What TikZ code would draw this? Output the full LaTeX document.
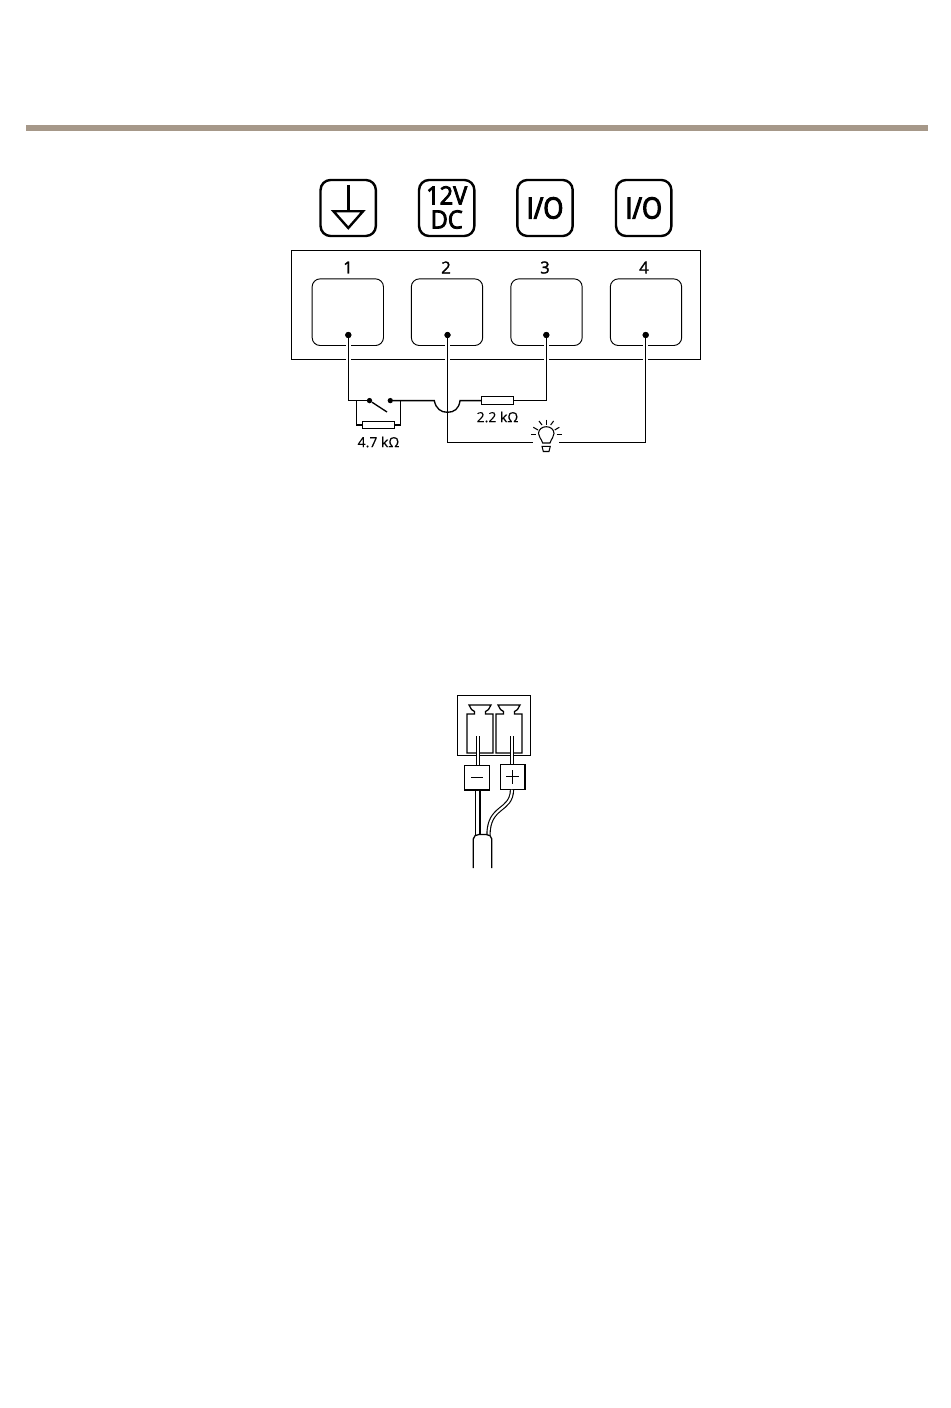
\documentclass[tikz,border=0pt]{standalone}
\usepackage{fontspec}
\setmainfont{Open Sans}
\usetikzlibrary{positioning}

\begin{document}
\begin{tikzpicture}[x=0.75pt,y=-0.75pt]
	\tikzstyle{Icon} = [rectangle, rounded corners=7.5pt, minimum width=41.5pt, minimum height=42pt, inner sep=0pt, draw=black, line width=1.8pt]
	\tikzstyle{IconText} = [align=center, inner sep=0pt]
	\tikzstyle{Port} = [rectangle, rounded corners=6pt, minimum width=53.5pt, minimum height=50pt, inner sep=0pt, draw=black, line width=0.7pt]
	\tikzstyle{Pin} = [circle, fill=black, minimum size=4.6pt, inner sep=0pt]
	\tikzstyle{Contact} = [circle, fill=black, minimum size=4pt, inner sep=0pt]
	\tikzstyle{Resistor} = [rectangle, minimum width=24pt, minimum height=5.6pt, inner sep=0pt, draw=black, line width=0.85pt]
	\tikzstyle{Value} = [inner sep=0pt, font=\fontsize{10.5}{10.5}\selectfont\addfontfeature{FakeBold=0.25}]
	\tikzstyle{Digit} = [inner sep=0pt, font=\fontsize{12.5}{12.5}\selectfont\addfontfeature{FakeBold=1.5}]
	\tikzstyle{wire} = [line width=1pt, line join=miter]
	\tikzstyle{crossing} = [wire, preaction={draw=white, line width=3.4pt}]
	\tikzstyle{Polarity} = [rectangle, minimum width=18.6pt, minimum height=18.6pt, inner sep=0pt, draw=black, line width=0.9pt]
	\tikzstyle{cable} = [line width=0.85pt, double=white, double distance=1.5pt]
	\tikzstyle{lowcable} = [line width=0.8pt, double=white, double distance=2.6pt]
	\tikzstyle{thincable} = [line width=0.5pt, double=white, double distance=0.9pt]
	\tikzstyle{bulb} = [line width=0.8pt]

	\useasboundingbox (0,0) rectangle (950,1408);
	\fill [fill={rgb,255:red,166;green,152;blue,137}] (26,125) rectangle (928,131);

	\node (icon1) [Icon] at (348.2,208) {};
	\node (icon2) [Icon] at (446.7,208) {};
	\node (icon3) [Icon] at (545,208) {};
	\node (icon4) [Icon] at (643.7,208) {};
	\draw [line width=1.8pt] (348.3,185) -- (348.3,212);
	\draw [line width=1.8pt, miter limit=10] (333.5,211.3) -- (363,211.3) -- (348.3,228) -- cycle;
	\node (dc) [IconText, font=\fontsize{19}{18}\selectfont\addfontfeature{FakeStretch=0.93,FakeBold=3.2}] at (446.7,207.5) {12V\\DC};
	\node (io1) [IconText, font=\fontsize{22}{22}\selectfont\addfontfeature{FakeStretch=0.88,FakeBold=3.6}] at (545,208) {I/O};
	\node (io2) [IconText, font=\fontsize{22}{22}\selectfont\addfontfeature{FakeStretch=0.88,FakeBold=3.6}] at (643.7,208) {I/O};

	\node (frame) [rectangle, minimum width=306.5pt, minimum height=82.3pt, inner sep=0pt, draw=black, line width=0.8pt] at (495.8,305.1) {};
	\node (port1) [Port] at (347.8,312.2) {};
	\node (port2) [Port] at (447,312.2) {};
	\node (port3) [Port] at (546.5,312.2) {};
	\node (port4) [Port] at (646,312.2) {};
	\node (num1) [Digit] at (348,267.5) {1};
	\node (num2) [Digit] at (446,267.5) {2};
	\node (num3) [Digit] at (545,267.5) {3};
	\node (num4) [Digit] at (644,267.5) {4};

	\node (pin1) [Pin] at (348.3,335) {};
	\node (pin2) [Pin] at (447.5,335) {};
	\node (pin3) [Pin] at (546.3,335) {};
	\node (pin4) [Pin] at (645.7,335) {};

	\node (swL) [Contact] at (369.5,400.6) {};
	\node (swR) [Contact] at (390.3,400.6) {};
	\node (res47) [Resistor] at (378.5,425) {};
	\node (res22) [Resistor] at (497.5,400.6) {};
	\node (val47) [Value] at (378.5,442) {4.7 kΩ};
	\node (val22) [Value] at (497.5,417) {2.2 kΩ};
	\coordinate (lampL) at (533.3,442.4);
	\coordinate (lampR) at (559.3,442.4);
	\coordinate (hopL) at (434.3,400.6);
	\coordinate (hopB) at (447.5,412.3);
	\coordinate (hopR) at (460,400.6);
	\coordinate (bladeEnd) at (387,412);
	\coordinate (loopL) at (356.6,400.6);
	\coordinate (loopR) at (400.6,400.6);

	\draw [crossing] (pin2) |- (lampL);
	\draw [wire] (swR) -- (hopL) .. controls (436,409) and (441,412.3) .. (hopB) .. controls (454,412.3) and (459,409) .. (hopR) -- (res22.west);
	\draw [crossing] (pin3) |- (res22.east);
	\draw [crossing] (pin1) |- (swL);
	\draw [wire] (swL) -- (bladeEnd);
	\draw [wire] (loopL) |- (res47.west);
	\draw [wire] (loopR) |- (res47.east);
	\draw [crossing] (pin4) |- (lampR);
	\node (pin1top) [Pin] at (pin1) {};
	\node (pin2top) [Pin] at (pin2) {};
	\node (pin3top) [Pin] at (pin3) {};
	\node (pin4top) [Pin] at (pin4) {};

	\draw [bulb] (542.7,443) .. controls (541,438) and (538.5,437) .. (538.5,433.5) .. controls (538.5,429.5) and (542,426.7) .. (546.3,426.7) .. controls (550.6,426.7) and (554,429.5) .. (554,433.5) .. controls (554,437) and (551.6,438) .. (550,443) -- cycle;
	\draw [bulb] (542,446.3) -- (550.3,446.3) -- (549,451.5) -- (543.3,451.5) -- cycle;
	\draw [bulb] (546.3,419.5) -- (546.3,424.7);
	\draw [bulb] (539,421) -- (542,425);
	\draw [bulb] (553.6,421) -- (550.6,425);
	\draw [bulb] (533.3,427.3) -- (538,430);
	\draw [bulb] (559.3,427.3) -- (554.7,430);
	\draw [bulb] (531,434.3) -- (536.3,434.3);
	\draw [bulb] (556.7,434.3) -- (562.3,434.3);

	\draw [line width=1pt] (457.8,695.8) rectangle (530.7,755.6);
	\foreach \cx in {480,509} {
		\draw [line width=0.95pt] (\cx-13,753) -- (\cx-13,714) -- (\cx-5.5,714) -- (\cx-5.5,711.5) -- (\cx-8.5,709.5) -- (\cx-11,705) -- (\cx+11,705) -- (\cx+8.5,709.5) -- (\cx+5.5,711.5) -- (\cx+5.5,714) -- (\cx+13,714) -- (\cx+13,753) -- cycle;
	}

	\node (minus) [Polarity] at (476.8,777.5) {};
	\node (plus) [Polarity] at (512.5,776.8) {};
	\draw [line width=0.6pt] (471,777.5) -- (483,777.5);
	\draw [line width=0.6pt] (506,776.8) -- (519,776.8) (512.5,770) -- (512.5,783.5);

	\coordinate (tipM) at (478,724);
	\coordinate (tipP) at (512,724);
	\coordinate (sleeveM) at (478,736);
	\coordinate (sleeveP) at (512,736);
	\coordinate (jacketM) at (477.7,835);
	\coordinate (jacketP) at (488.5,835);
	\draw [thincable] (tipM) -- (sleeveM);
	\draw [thincable] (tipP) -- (sleeveP);
	\draw [cable] (sleeveM) -- (minus.north -| sleeveM);
	\draw [cable] (sleeveP) -- (plus.north -| sleeveP);
	\draw [lowcable] (minus.south -| jacketM) -- (jacketM);
	\draw [cable] (plus.south -| sleeveP) .. controls (511.5,812) and (488.5,805) .. (jacketP);
	\draw [line width=0.95pt, fill=white] (473.3,868) -- (473.3,839) .. controls (473.3,836) and (476,834.5) .. (479,834.5) -- (486,834.5) .. controls (489,834.5) and (491.8,836) .. (491.8,839) -- (491.8,868);
\end{tikzpicture}
\end{document}
